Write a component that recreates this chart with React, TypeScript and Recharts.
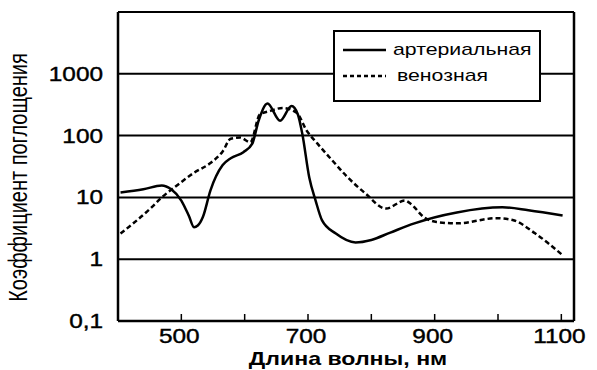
import { LineChart, Line, XAxis, YAxis, CartesianGrid } from "recharts";

const arterialNm = [404, 440, 469, 484, 500, 512, 520, 526, 534, 546, 565, 578, 598, 612, 622, 636, 656, 674, 684, 691, 702, 712, 722, 744, 775, 800, 830, 868, 935, 1007, 1048, 1102];
const arterialVal = [12, 13.5, 15.6, 13.5, 8.9, 5, 3.3, 3.5, 4.8, 13, 33, 43, 54, 74, 174, 330, 174, 300, 220, 107, 21, 8.9, 4.3, 2.6, 1.87, 2.05, 2.7, 3.8, 5.7, 6.9, 6.2, 5.1];

const venousNm = [404, 453, 469, 489, 520, 546, 565, 578, 593, 609, 624, 640, 660, 682, 698, 715, 738, 761, 791, 823, 853, 862, 883, 903, 935, 997, 1023, 1059, 1102];
const venousVal = [2.6, 6.9, 10, 14.5, 25, 36, 55, 89, 93, 78, 220, 250, 280, 235, 120, 74, 40, 22, 11.5, 6.6, 8.9, 7.9, 4.8, 4, 3.8, 4.6, 4.3, 2.6, 1.16];

const xTicks = [500, 600, 700, 800, 900, 1000, 1100];
const xLabeled = [500, 700, 900, 1100];
const yTicks = [0.1, 1, 10, 100, 1000];

const legendItems = [
  { name: "артериальная", dash: undefined },
  { name: "венозная", dash: "4 3" },
];

const arterial = arterialNm.map((nm, i) => ({ nm, v: arterialVal[i] }));
const venous = venousNm.map((nm, i) => ({ nm, v: venousVal[i] }));

// the source picture is stretched sideways, so text is widened too
const font = "Liberation Sans, Arial, sans-serif";
const stretch = 1.25;

function XTick(props: any) {
  const { x, y, payload } = props;
  const show = xLabeled.includes(payload.value);
  return (
    <g>
      <line x1={x} y1={y} x2={x} y2={y - 7} stroke="#000" strokeWidth={1.5} />
      {show && (
        <g transform={`translate(${x - 2}, ${y + 22}) scale(${stretch}, 1)`}>
          <text textAnchor="middle" fontSize={19.5} fontFamily={font} fill="#000" stroke="#000" strokeWidth={0.4}>
            {payload.value}
          </text>
        </g>
      )}
    </g>
  );
}

function YTick(props: any) {
  const { x, y, payload } = props;
  const label = payload.value === 0.1 ? "0,1" : String(payload.value);
  return (
    <g transform={`translate(${x - 15}, ${y + 7}) scale(${stretch}, 1)`}>
      <text textAnchor="end" fontSize={19.5} fontFamily={font} fill="#000" stroke="#000" strokeWidth={0.4}>
        {label}
      </text>
    </g>
  );
}

function LegendBox() {
  return (
    <div
      style={{
        position: "absolute",
        left: 333,
        top: 30,
        width: 208,
        height: 72,
        border: "2px solid #000",
        background: "#fff",
        boxSizing: "border-box",
        fontFamily: font,
        fontSize: 17,
      }}
    >
      {legendItems.map((it, i) => (
        <div
          key={it.name}
          style={{ position: "absolute", left: 0, top: 8 + i * 26, height: 20, display: "flex", alignItems: "center" }}
        >
          <svg width={58} height={10}>
            <line x1={8} y1={5} x2={51} y2={5} stroke="#000" strokeWidth={2.5} strokeDasharray={it.dash} />
          </svg>
          <span style={{ display: "inline-block", transform: `scaleX(${stretch})`, transformOrigin: "left center", marginLeft: i === 0 ? 0 : 4 }}>
            {it.name}
          </span>
        </div>
      ))}
    </div>
  );
}

export default function App() {
  return (
    <div style={{ position: "absolute", left: 0, top: 0, width: 597, height: 370, background: "#fff" }}>
      <LineChart width={597} height={370} margin={{ top: 12, right: 22, left: 0, bottom: 0 }}>
        <CartesianGrid vertical={false} stroke="#000" strokeWidth={2} />
        <XAxis
          dataKey="nm"
          type="number"
          domain={[400, 1120]}
          ticks={xTicks}
          allowDataOverflow
          height={49}
          tickSize={0}
          tickMargin={0}
          tick={<XTick />}
          axisLine={{ stroke: "#000", strokeWidth: 2.5 }}
          label={{
            content: (p: any) => {
              const vb = p.viewBox;
              return (
                <g transform={`translate(${vb.x + vb.width / 2 + 2}, 365) scale(${stretch}, 1)`}>
                  <text textAnchor="middle" fontFamily={font} fontSize={18.5} fontWeight="bold" fill="#000">
                    Длина волны, нм
                  </text>
                </g>
              );
            },
          }}
        />
        <XAxis
          xAxisId="top"
          orientation="top"
          type="number"
          domain={[0, 1]}
          height={0}
          tick={false}
          tickLine={false}
          axisLine={{ stroke: "#000", strokeWidth: 2.5 }}
        />
        <YAxis
          scale="log"
          type="number"
          domain={[0.1, 10000]}
          ticks={yTicks}
          allowDataOverflow
          width={118}
          tickLine={false}
          tickSize={0}
          tickMargin={0}
          tick={<YTick />}
          axisLine={{ stroke: "#000", strokeWidth: 2.5 }}
          label={{
            content: (p: any) => {
              const vb = p.viewBox;
              return (
                <g transform={`translate(27, ${vb.y + vb.height / 2 + 11}) scale(${stretch}, 1) rotate(-90)`}>
                  <text textAnchor="middle" fontFamily={font} fontSize={20} fill="#000">
                    Коэффициент поглощения
                  </text>
                </g>
              );
            },
          }}
        />
        <YAxis
          yAxisId="right"
          orientation="right"
          type="number"
          domain={[0, 1]}
          width={1}
          tick={false}
          tickLine={false}
          axisLine={{ stroke: "#000", strokeWidth: 2.5 }}
        />
        <Line
          data={arterial}
          dataKey="v"
          type="monotone"
          stroke="#000"
          strokeWidth={2.5}
          dot={false}
          isAnimationActive={false}
        />
        <Line
          data={venous}
          dataKey="v"
          type="monotone"
          stroke="#000"
          strokeWidth={2.5}
          strokeDasharray="5 3"
          dot={false}
          isAnimationActive={false}
        />
      </LineChart>
      <LegendBox />
    </div>
  );
}
